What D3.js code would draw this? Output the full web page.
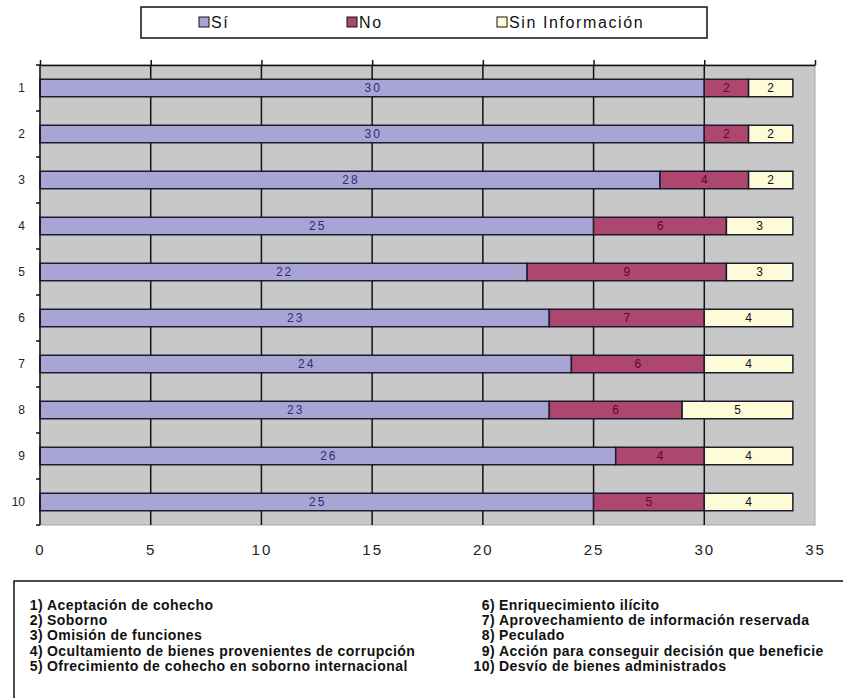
<!DOCTYPE html>
<html>
<head>
<meta charset="utf-8">
<script src="https://cdn.jsdelivr.net/npm/d3@7"></script>
<style>
  body { margin: 0; background: #fff; }
  svg { display: block; }
</style>
</head>
<body>
<div id="container"></div>
<script>
/* CONSTANTS AND GLOBALS */
const width = 843,
  height = 698;

const plot = { left: 40, right: 815, top: 65, bottom: 525 };

/* DATA */
const categories = ["1", "2", "3", "4", "5", "6", "7", "8", "9", "10"];
const seriesNames = ["Sí", "No", "Sin Información"];
const siValues = [30, 30, 28, 25, 22, 23, 24, 23, 26, 25];
const noValues = [2, 2, 4, 6, 9, 7, 6, 6, 4, 5];
const sinInfoValues = [2, 2, 2, 3, 3, 4, 4, 5, 4, 4];
const xTicks = [0, 5, 10, 15, 20, 25, 30, 35];

const leftNotes = [
  ["1)", "Aceptación de cohecho"],
  ["2)", "Soborno"],
  ["3)", "Omisión de funciones"],
  ["4)", "Ocultamiento de bienes provenientes de corrupción"],
  ["5)", "Ofrecimiento de cohecho en soborno internacional"]
];
const rightNotes = [
  ["6)", "Enriquecimiento ilícito"],
  ["7)", "Aprovechamiento de información reservada"],
  ["8)", "Peculado"],
  ["9)", "Acción para conseguir decisión que beneficie"],
  ["10)", "Desvío de bienes administrados"]
];

const colors = ["#a8a4d4", "#ae476f", "#fefbd9"];
const labelColors = ["#2c2c78", "#5a0a28", "#111"];

// table for d3.stack
const rows = categories.map((c, i) => ({
  cat: c,
  "Sí": siValues[i],
  "No": noValues[i],
  "Sin Información": sinInfoValues[i]
}));

const chartFont = "'Liberation Sans Narrow', 'Liberation Sans', Arial, sans-serif";

/* SCALES */
const xScale = d3.scaleLinear()
  .domain([0, 35])
  .range([plot.left, plot.right]);

const yScale = d3.scaleBand()
  .domain(categories)
  .range([plot.top, plot.bottom])
  .paddingInner(0.62)
  .paddingOuter(0.31);

const colorScale = d3.scaleOrdinal()
  .domain(seriesNames)
  .range(colors);

const labelColorScale = d3.scaleOrdinal()
  .domain(seriesNames)
  .range(labelColors);

const stacked = d3.stack().keys(seriesNames)(rows);

/* SVG */
const svg = d3.select("#container")
  .append("svg")
  .attr("width", width)
  .attr("height", height);

// plot background
svg.append("rect")
  .attr("x", plot.left)
  .attr("y", plot.top)
  .attr("width", plot.right - plot.left)
  .attr("height", plot.bottom - plot.top)
  .attr("fill", "#c8c8c8")
  .attr("stroke", "#a6a6a6")
  .attr("stroke-width", 1);

// vertical gridlines (behind bars)
svg.append("g")
  .selectAll("line")
  .data(xTicks.filter(d => d > 0 && d < 35))
  .join("line")
  .attr("x1", d => xScale(d))
  .attr("x2", d => xScale(d))
  .attr("y1", plot.top)
  .attr("y2", plot.bottom)
  .attr("stroke", "#111")
  .attr("stroke-width", 1.5);

// top axis: line with small ticks pointing up, no labels
const topAxis = d3.axisTop(xScale)
  .tickValues(xTicks)
  .tickSize(5)
  .tickSizeOuter(0)
  .tickFormat("");

svg.append("g")
  .attr("transform", `translate(0, ${plot.top})`)
  .call(topAxis)
  .call(g => g.select(".domain").attr("stroke", "#111").attr("stroke-width", 1.5))
  .call(g => g.selectAll(".tick line").attr("stroke", "#111").attr("stroke-width", 1.5));

// bottom tick labels
const bottomAxis = d3.axisBottom(xScale)
  .tickValues(xTicks)
  .tickSize(0)
  .tickPadding(19);

svg.append("g")
  .attr("transform", `translate(0, ${plot.bottom})`)
  .call(bottomAxis)
  .call(g => g.select(".domain").remove())
  .call(g => g.selectAll("text")
    .attr("font-family", chartFont)
    .attr("font-size", 15)
    .attr("letter-spacing", 2)
    .attr("fill", "#222"));

// bars
svg.append("g")
  .selectAll("g")
  .data(stacked)
  .join("g")
  .attr("fill", d => colorScale(d.key))
  .selectAll("rect")
  .data(d => d)
  .join("rect")
  .attr("x", d => xScale(d[0]))
  .attr("y", d => yScale(d.data.cat))
  .attr("width", d => xScale(d[1]) - xScale(d[0]))
  .attr("height", yScale.bandwidth())
  .attr("stroke", "#1c1c30")
  .attr("stroke-width", 1.5);

// value labels
svg.append("g")
  .selectAll("g")
  .data(stacked)
  .join("g")
  .attr("fill", d => labelColorScale(d.key))
  .selectAll("text")
  .data(d => d)
  .join("text")
  .attr("x", d => (xScale(d[0]) + xScale(d[1])) / 2 + 1)
  .attr("y", d => yScale(d.data.cat) + yScale.bandwidth() / 2)
  .attr("dy", "0.3em")
  .attr("text-anchor", "middle")
  .attr("font-family", chartFont)
  .attr("font-size", 12)
  .attr("letter-spacing", 2)
  .text(d => d[1] - d[0]);

// left axis: line, ticks at band boundaries, labels at band centers
const step = yScale.step();
const boundaries = categories.map(c => yScale(c) - (step - yScale.bandwidth()) / 2)
  .concat([plot.bottom]);

const leftAxisG = svg.append("g");
leftAxisG.append("line")
  .attr("x1", plot.left).attr("x2", plot.left)
  .attr("y1", plot.top).attr("y2", plot.bottom)
  .attr("stroke", "#111")
  .attr("stroke-width", 1.5);
leftAxisG.selectAll("line.tick")
  .data(boundaries)
  .join("line")
  .attr("class", "tick")
  .attr("x1", plot.left - 4).attr("x2", plot.left)
  .attr("y1", d => d).attr("y2", d => d)
  .attr("stroke", "#111")
  .attr("stroke-width", 1.5);

const leftAxis = d3.axisLeft(yScale)
  .tickSize(0)
  .tickPadding(15);

svg.append("g")
  .attr("transform", `translate(${plot.left}, 0)`)
  .call(leftAxis)
  .call(g => g.select(".domain").remove())
  .call(g => g.selectAll("text")
    .attr("font-family", chartFont)
    .attr("font-size", 12)
    .attr("fill", "#222"));

/* LEGEND */
const legend = svg.append("g");
legend.append("rect")
  .attr("x", 141).attr("y", 7)
  .attr("width", 566).attr("height", 31)
  .attr("fill", "#fff")
  .attr("stroke", "#111")
  .attr("stroke-width", 1.5);

const legendX = [199, 347, 497];
const legendItems = legend.selectAll("g.item")
  .data(seriesNames)
  .join("g")
  .attr("class", "item")
  .attr("transform", (d, i) => `translate(${legendX[i]}, 22)`);

legendItems.append("rect")
  .attr("x", 0).attr("y", -5)
  .attr("width", 10).attr("height", 10)
  .attr("fill", d => colorScale(d))
  .attr("stroke", "#111")
  .attr("stroke-width", 1);

legendItems.append("text")
  .attr("x", 12)
  .attr("dy", "0.36em")
  .attr("font-family", chartFont)
  .attr("font-size", 16)
  .attr("letter-spacing", 1.6)
  .attr("fill", "#111")
  .text(d => d);

/* NOTES BOX */
svg.append("rect")
  .attr("x", 14).attr("y", 581)
  .attr("width", 860).attr("height", 140)
  .attr("fill", "#fff")
  .attr("stroke", "#111")
  .attr("stroke-width", 1.5);

function drawNotes(notes, numEnd) {
  const g = svg.append("g")
    .attr("font-family", "'Liberation Sans', Arial, sans-serif")
    .attr("font-weight", "bold")
    .attr("font-size", 14)
    .attr("letter-spacing", 0.45)
    .attr("fill", "#111");
  g.selectAll("text.num")
    .data(notes)
    .join("text")
    .attr("class", "num")
    .attr("x", numEnd)
    .attr("y", (d, i) => 610 + i * 15.2)
    .attr("text-anchor", "end")
    .text(d => d[0]);
  g.selectAll("text.desc")
    .data(notes)
    .join("text")
    .attr("class", "desc")
    .attr("x", numEnd + 4)
    .attr("y", (d, i) => 610 + i * 15.2)
    .text(d => d[1]);
}

drawNotes(leftNotes, 43);
drawNotes(rightNotes, 495);
</script>
</body>
</html>
